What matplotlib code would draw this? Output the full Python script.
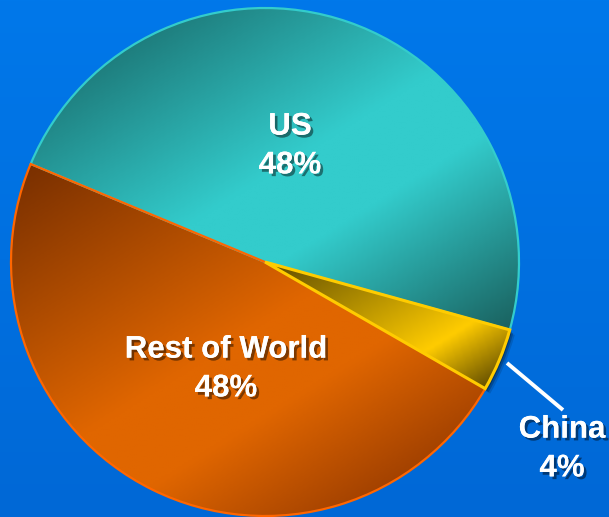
import numpy as np
import matplotlib.pyplot as plt
import matplotlib.patheffects as pe
from matplotlib.colors import LinearSegmentedColormap
from matplotlib.patches import Wedge

# dados do gráfico
regioes = ["US", "Rest of World", "China"]
valores = [48, 48, 4]
rotulos = ["US\n48%", "Rest of World\n48%", "China\n4%"]

# cor da borda e paradas do degradê de cada fatia (posição, cor)
bordas = ["#33CCCC", "#FF6600", "#FFCC00"]
gradientes = [
    [(0.0, "#1E7C7C"), (0.42, "#33CCCC"), (0.6, "#33CCCC"), (1.0, "#1A6260")],
    [(0.0, "#7A3000"), (0.55, "#E06600"), (0.72, "#E06600"), (1.0, "#A04000")],
    [(0.0, "#5C4A00"), (0.72, "#FFCC00"), (1.0, "#665000")],
]

W, H = 609, 517
centro = (265, 255)
raio = 254
# direção do degradê (para baixo e à direita)
direcao = np.array([0.53, -0.85])

fig = plt.figure(figsize=(W / 100, H / 100), dpi=100)
ax = fig.add_axes([0, 0, 1, 1])

# fundo azul em degradê vertical
fundo = LinearSegmentedColormap.from_list("fundo", ["#0068D6", "#0078EA"])
ax.imshow(np.linspace(0, 1, 256).reshape(-1, 1), cmap=fundo, origin="lower",
          extent=(0, W, 0, H), aspect="auto", zorder=0)

wedges, _ = ax.pie(valores, startangle=-15.5, counterclock=True,
                   center=centro, radius=raio, frame=True,
                   wedgeprops=dict(linewidth=1.6))

gx, gy = np.meshgrid(np.linspace(0, W, 300), np.linspace(0, H, 260))
proj = gx * direcao[0] + gy * direcao[1]

for i, w in enumerate(wedges):
    w.set_facecolor("none")
    w.set_edgecolor(bordas[i])
    w.set_zorder(4 if i == 2 else 3)
    if i == 2:
        w.set_linewidth(2.2)
    # degradê recortado pela fatia, normalizado pela extensão dela
    u = w.get_path().vertices @ direcao
    t = (proj - u.min()) / (u.max() - u.min())
    cmap = LinearSegmentedColormap.from_list(regioes[i], gradientes[i])
    im = ax.imshow(np.clip(t, 0, 1), cmap=cmap, vmin=0, vmax=1,
                   extent=(0, W, 0, H), origin="lower", aspect="auto",
                   zorder=w.get_zorder() - 0.5, interpolation="bilinear")
    im.set_clip_path(w)

# sombra da fatia China
t1, t2 = wedges[2].theta1, wedges[2].theta2
for k, a in zip([5, 3.5, 2], [0.15, 0.25, 0.35]):
    ax.add_patch(Wedge((centro[0] + k, centro[1] - k), raio, t1, t2,
                       facecolor="#001020", edgecolor="none", alpha=a, zorder=2))

# linha de chamada da China
ax.plot([507, 563], [154, 107], color="white", lw=2.8, solid_capstyle="butt",
        zorder=5)

sombra = [pe.withSimplePatchShadow(offset=(2, -2), shadow_rgbFace="black",
                                   alpha=0.45), pe.Normal()]
posicoes = [(290, 371), (226, 148), (562, 68)]
for txt, (x, y) in zip(rotulos, posicoes):
    ax.text(x, y, txt, ha="center", va="center", color="white",
            fontsize=22.5, fontweight="bold", family="Liberation Sans",
            linespacing=1.38, path_effects=sombra, zorder=6)

ax.set_xlim(0, W)
ax.set_ylim(0, H)
ax.set_aspect("auto")
ax.axis("off")

fig.savefig("out.png", dpi=100)
